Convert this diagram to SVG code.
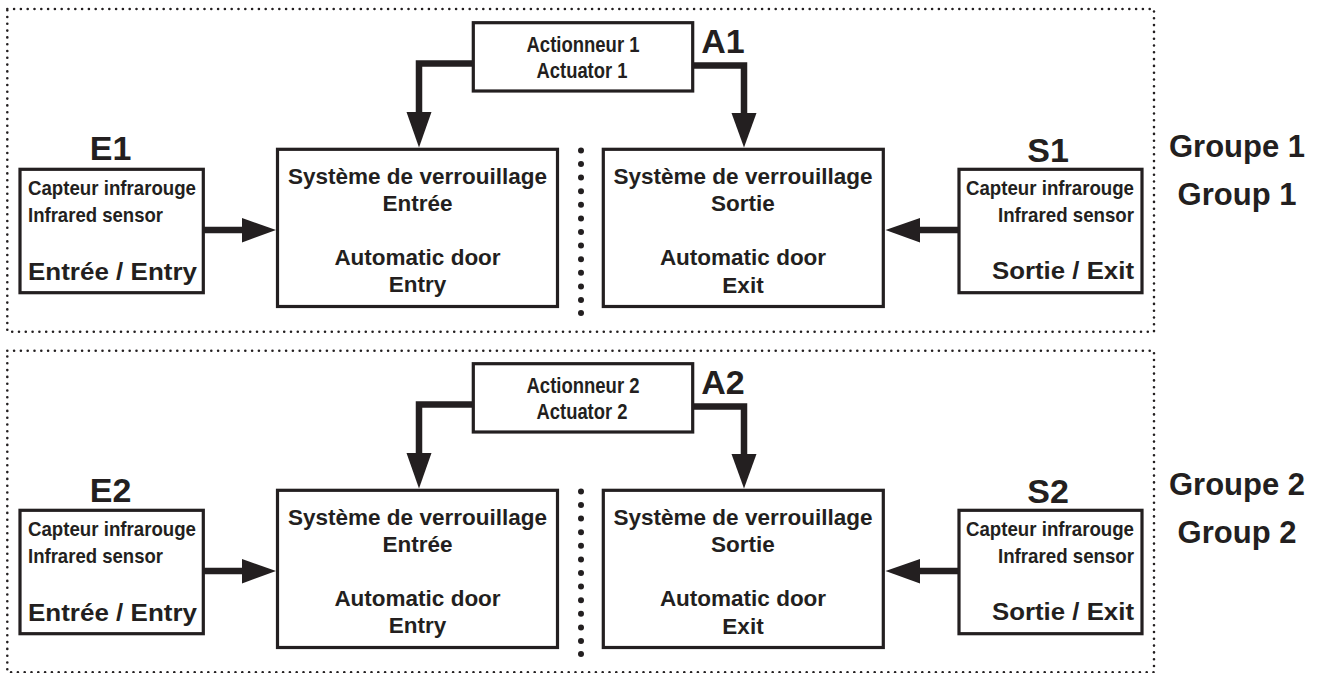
<svg xmlns="http://www.w3.org/2000/svg" width="1321" height="673" viewBox="0 0 1321 673">
  <style>
    .frame { fill: none; stroke: #231f20; stroke-width: 2.6; stroke-dasharray: 0 6.8; stroke-linecap: round; }
    .box { fill: #ffffff; stroke: #231f20; stroke-width: 3.2; }
    .wire { fill: none; stroke: #231f20; stroke-width: 6.5; stroke-linejoin: miter; }
    .head { fill: #231f20; }
    .sep { fill: #231f20; }
    text { font-family: "Liberation Sans", Arial, sans-serif; font-weight: bold; fill: #231f20; }
    .tag { font-size: 34px; text-anchor: middle; }
    .main { font-size: 22.5px; text-anchor: middle; }
    .small { font-size: 21px; }
    .act { font-size: 21.5px; text-anchor: middle; }
    .side { font-size: 23px; }
    .grp { font-size: 31px; text-anchor: middle; }
  </style>

  <!-- ===== Group 1 ===== -->
  <g id="group1">
    <rect class="frame" x="7.3" y="9" width="1146.7" height="322.7"/>

    <g id="connectors1">
      <!-- actuator to entry lock -->
      <polyline class="wire" points="473,63.5 419,63.5 419,114"/>
      <polygon class="head" points="406.5,112 431.5,112 419,147.5"/>
      <!-- actuator to exit lock -->
      <polyline class="wire" points="693,65.5 744,65.5 744,115"/>
      <polygon class="head" points="731.5,113 756.5,113 744,147.5"/>
      <!-- entry sensor to entry lock -->
      <line class="wire" x1="203" y1="230" x2="244" y2="230"/>
      <polygon class="head" points="242,218 242,242.5 276,230"/>
      <!-- exit sensor to exit lock -->
      <line class="wire" x1="959" y1="230" x2="918" y2="230"/>
      <polygon class="head" points="920,218 920,242.5 885.5,230"/>
    </g>

    <g id="A1">
      <rect class="box" x="473.3" y="22.7" width="219.4" height="68.3"/>
      <text class="act" x="583" y="51.7" textLength="113" lengthAdjust="spacingAndGlyphs">Actionneur 1</text>
      <text class="act" x="582" y="78" textLength="91" lengthAdjust="spacingAndGlyphs">Actuator 1</text>
      <text class="tag" x="723" y="53">A1</text>
    </g>

    <g id="E1">
      <text class="tag" x="110.5" y="160">E1</text>
      <rect class="box" x="20" y="169.3" width="183.3" height="123.4"/>
      <text class="small" x="28" y="195" textLength="168" lengthAdjust="spacingAndGlyphs">Capteur infrarouge</text>
      <text class="small" x="28" y="221.7" textLength="135" lengthAdjust="spacingAndGlyphs">Infrared sensor</text>
      <text class="side" x="28" y="280" textLength="169" lengthAdjust="spacingAndGlyphs">Entrée / Entry</text>
    </g>

    <g id="lock-entry1">
      <rect class="box" x="277.5" y="149.3" width="280" height="157.2"/>
      <text class="main" x="417.5" y="184.3">Système de verrouillage</text>
      <text class="main" x="417.5" y="210.5">Entrée</text>
      <text class="main" x="417.5" y="265">Automatic door</text>
      <text class="main" x="417.5" y="291.7">Entry</text>
    </g>

    <g id="divider1">
      <circle class="sep" cx="581" cy="150.5" r="3"/>
      <circle class="sep" cx="581" cy="164" r="3"/>
      <circle class="sep" cx="581" cy="177.6" r="3"/>
      <circle class="sep" cx="581" cy="191.2" r="3"/>
      <circle class="sep" cx="581" cy="204.8" r="3"/>
      <circle class="sep" cx="581" cy="218.4" r="3"/>
      <circle class="sep" cx="581" cy="232" r="3"/>
      <circle class="sep" cx="581" cy="245.6" r="3"/>
      <circle class="sep" cx="581" cy="259.2" r="3"/>
      <circle class="sep" cx="581" cy="272.8" r="3"/>
      <circle class="sep" cx="581" cy="286.4" r="3"/>
      <circle class="sep" cx="581" cy="300" r="3"/>
      <circle class="sep" cx="581" cy="313" r="3"/>
    </g>

    <g id="lock-exit1">
      <rect class="box" x="603.3" y="149.3" width="280" height="157.2"/>
      <text class="main" x="743" y="184.3">Système de verrouillage</text>
      <text class="main" x="743" y="210.5">Sortie</text>
      <text class="main" x="743" y="265">Automatic door</text>
      <text class="main" x="743" y="292.5">Exit</text>
    </g>

    <g id="S1">
      <text class="tag" x="1048" y="162">S1</text>
      <rect class="box" x="959" y="169.3" width="183" height="123.4"/>
      <text class="small" x="1134" y="195" text-anchor="end" textLength="168" lengthAdjust="spacingAndGlyphs">Capteur infrarouge</text>
      <text class="small" x="1134" y="221.7" text-anchor="end" textLength="136" lengthAdjust="spacingAndGlyphs">Infrared sensor</text>
      <text class="side" x="1134" y="278.5" text-anchor="end" textLength="142" lengthAdjust="spacingAndGlyphs">Sortie / Exit</text>
    </g>

    <g id="label1">
      <text class="grp" x="1237" y="156.7">Groupe 1</text>
      <text class="grp" x="1237" y="205">Group 1</text>
    </g>
  </g>

  <!-- ===== Group 2 ===== -->
  <g id="group2">
    <rect class="frame" x="7.3" y="350.7" width="1146.7" height="321.6"/>

    <g id="connectors2" transform="translate(0,341)">
      <polyline class="wire" points="473,63.5 419,63.5 419,114"/>
      <polygon class="head" points="406.5,112 431.5,112 419,147.5"/>
      <polyline class="wire" points="693,65.5 744,65.5 744,115"/>
      <polygon class="head" points="731.5,113 756.5,113 744,147.5"/>
      <line class="wire" x1="203" y1="230" x2="244" y2="230"/>
      <polygon class="head" points="242,218 242,242.5 276,230"/>
      <line class="wire" x1="959" y1="230" x2="918" y2="230"/>
      <polygon class="head" points="920,218 920,242.5 885.5,230"/>
    </g>

    <g id="A2" transform="translate(0,341)">
      <rect class="box" x="473.3" y="22.7" width="219.4" height="68.3"/>
      <text class="act" x="583" y="51.7" textLength="113" lengthAdjust="spacingAndGlyphs">Actionneur 2</text>
      <text class="act" x="582" y="78" textLength="91" lengthAdjust="spacingAndGlyphs">Actuator 2</text>
      <text class="tag" x="723" y="53">A2</text>
    </g>

    <g id="E2" transform="translate(0,341)">
      <text class="tag" x="110.5" y="161">E2</text>
      <rect class="box" x="20" y="169.3" width="183.3" height="123.4"/>
      <text class="small" x="28" y="195" textLength="168" lengthAdjust="spacingAndGlyphs">Capteur infrarouge</text>
      <text class="small" x="28" y="221.7" textLength="135" lengthAdjust="spacingAndGlyphs">Infrared sensor</text>
      <text class="side" x="28" y="280" textLength="169" lengthAdjust="spacingAndGlyphs">Entrée / Entry</text>
    </g>

    <g id="lock-entry2" transform="translate(0,341)">
      <rect class="box" x="277.5" y="149.3" width="280" height="157.2"/>
      <text class="main" x="417.5" y="184.3">Système de verrouillage</text>
      <text class="main" x="417.5" y="210.5">Entrée</text>
      <text class="main" x="417.5" y="265">Automatic door</text>
      <text class="main" x="417.5" y="291.7">Entry</text>
    </g>

    <g id="divider2" transform="translate(0,341)">
      <circle class="sep" cx="581" cy="150.5" r="3"/>
      <circle class="sep" cx="581" cy="164" r="3"/>
      <circle class="sep" cx="581" cy="177.6" r="3"/>
      <circle class="sep" cx="581" cy="191.2" r="3"/>
      <circle class="sep" cx="581" cy="204.8" r="3"/>
      <circle class="sep" cx="581" cy="218.4" r="3"/>
      <circle class="sep" cx="581" cy="232" r="3"/>
      <circle class="sep" cx="581" cy="245.6" r="3"/>
      <circle class="sep" cx="581" cy="259.2" r="3"/>
      <circle class="sep" cx="581" cy="272.8" r="3"/>
      <circle class="sep" cx="581" cy="286.4" r="3"/>
      <circle class="sep" cx="581" cy="300" r="3"/>
      <circle class="sep" cx="581" cy="313" r="3"/>
    </g>

    <g id="lock-exit2" transform="translate(0,341)">
      <rect class="box" x="603.3" y="149.3" width="280" height="157.2"/>
      <text class="main" x="743" y="184.3">Système de verrouillage</text>
      <text class="main" x="743" y="210.5">Sortie</text>
      <text class="main" x="743" y="265">Automatic door</text>
      <text class="main" x="743" y="292.5">Exit</text>
    </g>

    <g id="S2" transform="translate(0,341)">
      <text class="tag" x="1048" y="162">S2</text>
      <rect class="box" x="959" y="169.3" width="183" height="123.4"/>
      <text class="small" x="1134" y="195" text-anchor="end" textLength="168" lengthAdjust="spacingAndGlyphs">Capteur infrarouge</text>
      <text class="small" x="1134" y="221.7" text-anchor="end" textLength="136" lengthAdjust="spacingAndGlyphs">Infrared sensor</text>
      <text class="side" x="1134" y="278.5" text-anchor="end" textLength="142" lengthAdjust="spacingAndGlyphs">Sortie / Exit</text>
    </g>

    <g id="label2">
      <text class="grp" x="1237" y="495">Groupe 2</text>
      <text class="grp" x="1237" y="543.3">Group 2</text>
    </g>
  </g>
</svg>
